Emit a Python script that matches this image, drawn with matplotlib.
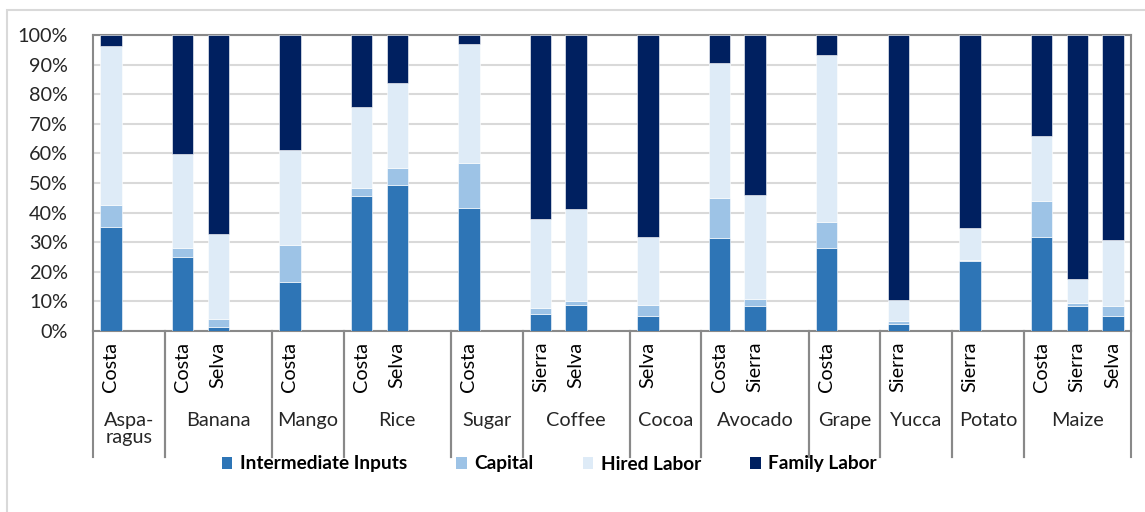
import matplotlib.pyplot as plt
from matplotlib.patches import Rectangle
from matplotlib.transforms import blended_transform_factory
from matplotlib.ticker import FuncFormatter

plt.rcParams['font.family'] = ['Lato', 'DejaVu Sans']

# crops, regions (leaf categories) and cost shares in %
crops = ["Aspa-\nragus", "Banana", "Mango", "Rice", "Sugar", "Coffee",
         "Cocoa", "Avocado", "Grape", "Yucca", "Potato", "Maize"]
regions = [["Costa"], ["Costa", "Selva"], ["Costa"], ["Costa", "Selva"],
           ["Costa"], ["Sierra", "Selva"], ["Selva"], ["Costa", "Sierra"],
           ["Costa"], ["Sierra"], ["Sierra"], ["Costa", "Sierra", "Selva"]]

intermediate = [35.0, 25.1, 1.5, 16.5, 45.5, 49.3, 41.5, 5.9, 8.9, 4.9,
                31.3, 8.5, 27.9, 2.3, 23.6, 31.6, 8.6, 5.2]
capital = [7.7, 2.9, 2.5, 12.5, 2.9, 5.8, 15.4, 1.9, 1.3, 4.0,
           13.8, 2.2, 9.0, 1.1, 0.3, 12.4, 0.9, 3.4]
hired = [53.6, 31.8, 28.7, 32.3, 27.3, 28.8, 40.1, 30.0, 30.9, 22.7,
         45.6, 35.2, 56.4, 7.2, 10.9, 22.0, 8.1, 22.2]
family = [3.7, 40.2, 67.3, 38.7, 24.3, 16.1, 3.0, 62.2, 58.9, 68.4,
          9.3, 54.1, 6.7, 89.4, 65.2, 34.0, 82.4, 69.2]

series = ["Intermediate Inputs", "Capital", "Hired Labor", "Family Labor"]
colors = ["#2E75B6", "#9DC3E6", "#DEEBF7", "#002060"]

W, H = 1145, 512
fig = plt.figure(figsize=(W / 100, H / 100), dpi=100)

def fx(px):
    return px / W

def fy(py):
    return 1 - py / H

# outer chart frame
fig.patches.append(Rectangle((fx(7), fy(600)), fx(1200), fy(10) - fy(600),
                             transform=fig.transFigure, fill=False,
                             edgecolor="#D9D9D9", linewidth=1.5))

ax = fig.add_axes([fx(93), fy(331), fx(1131) - fx(93), fy(35) - fy(331)])

# slot positions: one empty slot after every crop except the last
xpos, group_bounds = [], []
pos = 0
for gi, regs in enumerate(regions):
    start = pos
    for r in regs:
        xpos.append(pos)
        pos += 1
    if gi < len(regions) - 1:
        pos += 1
    group_bounds.append((start - 0.5, pos - 0.5))
nslots = pos

bottom = [0] * len(xpos)
for vals, name, c in zip([intermediate, capital, hired, family], series, colors):
    ax.bar(xpos, vals, width=0.6, bottom=bottom, color=c, label=name,
           edgecolor="white", linewidth=0.4, zorder=3)
    bottom = [b + v for b, v in zip(bottom, vals)]

ax.set_xlim(-0.5, nslots - 0.5)
ax.set_ylim(0, 100)
ax.set_yticks(range(0, 101, 10))
ax.yaxis.set_major_formatter(FuncFormatter(lambda v, p: f"{v:.0f}%"))
ax.tick_params(axis="y", length=0, pad=18, labelsize=14.3, colors="#404040",
               labelcolor="#262626")
ax.set_xticks([])
ax.grid(axis="y", color="#D9D9D9", linewidth=1.5, zorder=0)
for s in ax.spines.values():
    s.set_color("#898989")
    s.set_linewidth(1.5)

# multi-level category axis below the plot
tr = blended_transform_factory(ax.transData, fig.transFigure)
for x0, x1 in group_bounds:
    for xb in (x0, x1):
        ax.plot([xb, xb], [fy(331), fy(457)], transform=tr, color="#898989",
                linewidth=1.5, clip_on=False)

i = 0
for gi, regs in enumerate(regions):
    for r in regs:
        ax.text(xpos[i], fy(342), r, transform=tr, rotation=90, ha="center",
                va="top", fontsize=14.3, color="#000000")
        i += 1
    x0, x1 = group_bounds[gi]
    ax.text((x0 + x1) / 2, fy(412), crops[gi], transform=tr, ha="center",
            va="top", fontsize=14.3, color="#262626", linespacing=1.0)

leg = fig.legend(loc="center left", bbox_to_anchor=(fx(222), fy(464)), ncol=4,
                 frameon=False, fontsize=13.7, handlelength=0.55,
                 handleheight=0.55, handletextpad=0.38, columnspacing=2.6,
                 borderpad=0, borderaxespad=0)
for t in leg.get_texts():
    t.set_fontweight("bold")
    t.set_color("#000000")
for hnd in leg.legend_handles:
    hnd.set_edgecolor("none")

fig.savefig("out.png", dpi=100)
